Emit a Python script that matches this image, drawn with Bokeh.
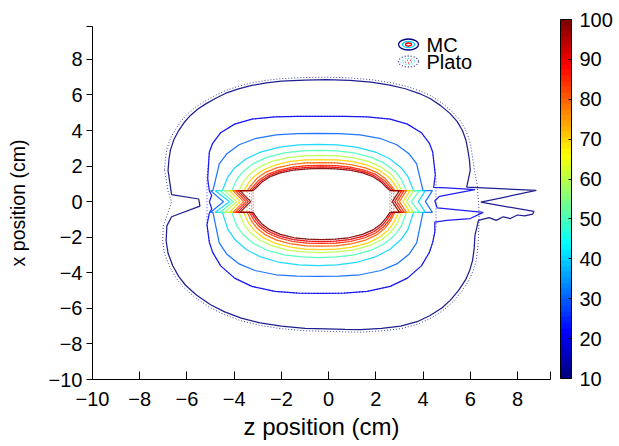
from bokeh.plotting import figure
from bokeh.models import (ColumnDataSource, LinearColorMapper, ColorBar, FixedTicker,
                          Range1d, Label)
from bokeh.transform import transform
from bokeh.embed import file_html
from bokeh.resources import INLINE

# ------------------------------------------------------------------ data
# axis limits and ticks
X_LIM = (-10.0, 9.4)
Y_LIM = (-10.0, 9.85)
X_TICKS = [-10, -8, -6, -4, -2, 0, 2, 4, 6, 8]
Y_TICKS = [-10, -8, -6, -4, -2, 0, 2, 4, 6, 8]
CBAR_LOW, CBAR_HIGH = 10, 100
CBAR_TICKS = [10, 20, 30, 40, 50, 60, 70, 80, 90, 100]

# MC 10 % isodose (z, x) in cm
Z10 = [-6.65, -5.50, -5.45, -6.65,
       -6.85, -6.88, -6.80, -6.60, -6.35, -6.06, -5.60, -5.00, -4.40, -3.70,
       -2.90, -2.00, -1.00, -0.10, 0.70, 1.35, 2.25, 3.05, 3.75, 4.30,
       4.80, 5.15, 5.50, 5.80, 5.98, 6.10, 6.17, 6.20, 6.35,
       6.80, 7.10, 7.40, 7.70, 8.00, 8.30, 8.65, 8.70, 6.45, 8.80, 7.00, 5.85,
       6.00, 5.97, 5.90, 5.82, 5.67, 5.45, 5.15, 4.75, 4.30, 3.85,
       3.25, 2.60, 1.80, 0.90, -0.10, -1.00, -2.00, -2.65, -3.30, -3.85,
       -4.35, -4.80, -5.20, -5.55, -5.85, -6.12, -6.35, -6.55, -6.70, -6.76,
       -6.80, -6.65]
X10 = [0.40, 0.15, -0.25, -0.85,
       -1.36, -2.20, -2.90, -3.60, -4.20, -4.70, -5.25, -5.80, -6.20, -6.55,
       -6.82, -7.00, -7.12, -7.15, -7.18, -7.20, -7.12, -7.00, -6.75, -6.40,
       -5.98, -5.55, -5.00, -4.40, -3.85, -3.30, -2.60, -1.90, -1.05,
       -0.90, -1.05, -0.85, -0.95, -0.75, -0.80, -0.70, -0.55, -0.03, 0.63, 0.75, 0.82,
       1.75, 2.30, 2.90, 3.45, 4.00, 4.50, 4.95, 5.40, 5.80, 6.08,
       6.35, 6.55, 6.72, 6.82, 6.86, 6.84, 6.78, 6.68, 6.52, 6.33,
       6.10, 5.80, 5.50, 5.20, 4.85, 4.45, 4.00, 3.50, 2.90, 2.40,
       1.75, 0.40]

# MC 20 % isodose
Z20 = [-5.05, -4.91, -4.57, -3.98, -3.25, -2.27, -1.30, -0.32, 0.66, 1.63, 2.61, 3.34,
       3.93, 4.27, 4.41,
       4.52, 4.45, 5.00, 6.20, 4.70, 4.50, 4.60, 6.55, 6.00, 5.00, 4.50, 4.50,
       4.41, 4.27, 3.93, 3.34, 2.61, 1.63, 0.66, -0.32, -1.30, -2.27, -3.25, -3.98,
       -4.57, -4.91, -5.05,
       -5.15, -5.05, -4.95, -5.05, -4.95, -5.05, -5.12, -5.05]
X20 = [2.79, 3.28, 3.88, 4.36, 4.64, 4.77, 4.80, 4.80, 4.80, 4.77, 4.64, 4.36,
       3.88, 3.28, 2.79,
       1.50, 0.80, 0.78, 0.68, 0.30, 0.05, -0.35, -0.60, -0.95, -1.05, -1.15, -1.70,
       -2.29, -2.85, -3.61, -4.30, -4.76, -5.05, -5.14, -5.16, -5.14, -5.05, -4.76, -4.30,
       -3.61, -2.85, -2.29,
       -1.30, -0.65, -0.40, 0.00, 0.35, 0.60, 1.30, 2.79]

# MC 30..100 % isodoses: arc z positions, upper arc x, lower arc x
Z30 = [-4.63, -4.32, -3.79, -3.12, -2.23, -1.34, -0.45, 0.44, 1.33, 2.22, 2.89, 3.42, 3.73]
T30 = [2.12, 2.68, 3.20, 3.54, 3.76, 3.83, 3.84, 3.83, 3.76, 3.54, 3.20, 2.68, 2.12]
B30 = [-2.32, -2.94, -3.50, -3.87, -4.11, -4.19, -4.20, -4.19, -4.11, -3.87, -3.50, -2.94, -2.32]
Z40 = [-4.26, -3.97, -3.49, -2.88, -2.07, -1.26, -0.45, 0.36, 1.17, 1.98, 2.59, 3.07, 3.36]
T40 = [1.41, 1.91, 2.41, 2.79, 3.07, 3.19, 3.22, 3.19, 3.07, 2.79, 2.41, 1.91, 1.41]
B40 = [-1.57, -2.13, -2.69, -3.11, -3.42, -3.56, -3.59, -3.56, -3.42, -3.11, -2.69, -2.13, -1.57]
Z50 = [-3.88, -3.62, -3.18, -2.62, -1.88, -1.14, -0.40, 0.34, 1.08, 1.82, 2.38, 2.82, 3.08]
T50 = [1.26, 1.70, 2.15, 2.49, 2.74, 2.85, 2.88, 2.85, 2.74, 2.49, 2.15, 1.70, 1.26]
B50 = [-1.38, -1.86, -2.35, -2.72, -2.99, -3.11, -3.14, -3.11, -2.99, -2.72, -2.35, -1.86, -1.38]
Z60 = [-3.59, -3.35, -2.94, -2.42, -1.73, -1.04, -0.35, 0.34, 1.03, 1.72, 2.24, 2.65, 2.89]
T60 = [1.14, 1.54, 1.94, 2.25, 2.48, 2.58, 2.60, 2.58, 2.48, 2.25, 1.94, 1.54, 1.14]
B60 = [-1.25, -1.69, -2.14, -2.47, -2.72, -2.83, -2.86, -2.83, -2.72, -2.47, -2.14, -1.69, -1.25]
Z70 = [-3.40, -3.17, -2.78, -2.29, -1.63, -0.98, -0.32, 0.34, 0.99, 1.65, 2.14, 2.53, 2.76]
T70 = [1.04, 1.40, 1.77, 2.05, 2.26, 2.35, 2.37, 2.35, 2.26, 2.05, 1.77, 1.40, 1.04]
B70 = [-1.18, -1.59, -2.01, -2.33, -2.56, -2.67, -2.69, -2.67, -2.56, -2.33, -2.01, -1.59, -1.18]
Z80 = [-3.26, -3.04, -2.67, -2.20, -1.57, -0.95, -0.32, 0.31, 0.93, 1.56, 2.03, 2.40, 2.62]
T80 = [0.96, 1.30, 1.65, 1.90, 2.09, 2.18, 2.20, 2.18, 2.09, 1.90, 1.65, 1.30, 0.96]
B80 = [-1.10, -1.48, -1.87, -2.16, -2.38, -2.48, -2.50, -2.48, -2.38, -2.16, -1.87, -1.48, -1.10]
Z85 = [-3.17, -2.95, -2.59, -2.13, -1.52, -0.91, -0.30, 0.31, 0.92, 1.53, 1.99, 2.35, 2.57]
T85 = [0.89, 1.21, 1.53, 1.76, 1.94, 2.02, 2.04, 2.02, 1.94, 1.76, 1.53, 1.21, 0.89]
B85 = [-1.03, -1.39, -1.76, -2.03, -2.24, -2.33, -2.35, -2.33, -2.24, -2.03, -1.76, -1.39, -1.03]
Z90 = [-3.09, -2.88, -2.53, -2.08, -1.49, -0.89, -0.30, 0.29, 0.89, 1.48, 1.93, 2.28, 2.49]
T90 = [0.85, 1.15, 1.46, 1.69, 1.86, 1.93, 1.95, 1.93, 1.86, 1.69, 1.46, 1.15, 0.85]
B90 = [-0.98, -1.33, -1.68, -1.94, -2.13, -2.22, -2.24, -2.22, -2.13, -1.94, -1.68, -1.33, -0.98]
Z100 = [-3.03, -2.82, -2.48, -2.04, -1.46, -0.88, -0.30, 0.28, 0.86, 1.44, 1.88, 2.22, 2.43]
T100 = [0.82, 1.11, 1.40, 1.62, 1.78, 1.85, 1.87, 1.85, 1.78, 1.62, 1.40, 1.11, 0.82]
B100 = [-0.93, -1.26, -1.59, -1.84, -2.03, -2.11, -2.13, -2.11, -2.03, -1.84, -1.59, -1.26, -0.93]

# applicator channel (nozzle) features of the 30..100 % lines
NOZ_LEVELS = [30, 40, 50, 60, 70, 80, 85, 90, 100]
LEFT_WALL_Z = [-4.90, -4.50, -4.10, -3.80, -3.60, -3.45, -3.35, -3.27, -3.20]
LEFT_END_Z = [-5.00, -4.80, -4.60, -4.40, -4.20, -4.05, -3.95, -3.85, -3.75]
LEFT_TIP_Z = [-4.45, -4.20, -4.05, -3.90, -3.75, -3.60, -3.50, -3.40, -3.30]
RIGHT_WALL_Z = [4.00, 3.60, 3.30, 3.10, 2.96, 2.81, 2.75, 2.67, 2.60]
RIGHT_END_Z = [4.40, 4.10, 3.85, 3.60, 3.45, 3.30, 3.20, 3.10, 3.00]
RIGHT_TIP_Z = [4.10, 3.80, 3.50, 3.30, 3.15, 3.00, 2.90, 2.80, 2.70]
CHANNEL_TOP_X = 0.62
CHANNEL_BOT_X = -0.60
CHANNEL_MID_X = 0.0

# Plato isodoses
P10_Z = [-6.95, -6.91, -6.85, -6.70, -6.48, -6.24, -5.95, -5.64, -5.28, -4.86,
         -4.40, -3.89, -3.32, -2.66, -2.00, -1.00, -0.10, 0.90, 1.81, 2.63,
         3.29, 3.91, 4.38, 4.85, 5.26, 5.57, 5.80, 5.96, 6.05, 6.12,
         6.18, 6.30, 6.35, 6.38, 6.35, 6.32, 6.25, 6.12, 5.93, 5.62,
         5.26, 4.89, 4.37, 3.80, 3.08, 2.26, 1.35, 0.70, -0.10, -1.01,
         -2.03, -2.94, -3.76, -4.47, -5.09, -5.70, -6.18, -6.48, -6.74, -6.95,
         -7.03, -7.00, -6.80, -6.65, -6.80, -6.95]
P10_X = [1.80, 2.43, 2.95, 3.55, 4.08, 4.55, 4.96, 5.31, 5.62, 5.93,
         6.23, 6.46, 6.66, 6.82, 6.92, 6.98, 7.00, 6.96, 6.86, 6.69,
         6.49, 6.21, 5.92, 5.50, 5.03, 4.57, 4.05, 3.48, 2.92, 2.31,
         1.75, 0.90, 0.00, -0.90, -1.92, -2.62, -3.33, -3.90, -4.46, -5.08,
         -5.64, -6.08, -6.52, -6.88, -7.14, -7.26, -7.34, -7.32, -7.29, -7.26,
         -7.14, -6.95, -6.68, -6.32, -5.91, -5.34, -4.77, -4.26, -3.64, -2.92,
         -2.21, -1.36, -0.60, 0.00, 0.60, 1.80]
P20_Z = [-5.05, -4.91, -4.57, -3.98, -3.25, -2.27, -1.30, -0.32, 0.66, 1.63, 2.61, 3.34,
         3.93, 4.27, 4.41, 4.55, 4.55, 4.41, 4.27, 3.93, 3.34, 2.61, 1.63, 0.66, -0.32,
         -1.30, -2.27, -3.25, -3.98, -4.57, -4.91, -5.05, -5.15, -5.15, -5.05]
P20_X = [2.79, 3.28, 3.88, 4.36, 4.64, 4.77, 4.80, 4.80, 4.80, 4.77, 4.64, 4.36,
         3.88, 3.28, 2.79, 1.30, -1.40, -2.29, -2.85, -3.61, -4.30, -4.76, -5.05, -5.14,
         -5.16, -5.14, -5.05, -4.76, -4.30, -3.61, -2.85, -2.29, -1.30, 1.30, 2.79]
PLATO_INNER_LEVELS = [70, 80, 85, 90, 100]

# ------------------------------------------------------------------ build
ARC_Z = {30: Z30, 40: Z40, 50: Z50, 60: Z60, 70: Z70, 80: Z80, 85: Z85, 90: Z90, 100: Z100}
ARC_T = {30: T30, 40: T40, 50: T50, 60: T60, 70: T70, 80: T80, 85: T85, 90: T90, 100: T100}
ARC_B = {30: B30, 40: B40, 50: B50, 60: B60, 70: B70, 80: B80, 85: B85, 90: B90, 100: B100}

WT, WB, WM = CHANNEL_TOP_X, CHANNEL_BOT_X, CHANNEL_MID_X

mc_xs, mc_ys, mc_lv = [Z10, Z20], [X10, X20], [10, 20]
for i, lv in enumerate(NOZ_LEVELS):
    z, t, b = ARC_Z[lv], ARC_T[lv], ARC_B[lv]
    zs = ([LEFT_END_Z[i], LEFT_WALL_Z[i]] + z +
          [RIGHT_WALL_Z[i], RIGHT_END_Z[i], RIGHT_TIP_Z[i], RIGHT_END_Z[i], RIGHT_WALL_Z[i]] +
          z[::-1] + [LEFT_WALL_Z[i], LEFT_END_Z[i], LEFT_TIP_Z[i], LEFT_END_Z[i]])
    xs = ([WT, WT] + t + [WT, WT, WM, WB, WB] + b[::-1] + [WB, WB, WM, WT])
    mc_xs.append(zs)
    mc_ys.append(xs)
    mc_lv.append(lv)

pl_xs, pl_ys, pl_lv = [P10_Z, P20_Z], [P10_X, P20_X], [10, 20]
for lv in PLATO_INNER_LEVELS:
    i = NOZ_LEVELS.index(lv)
    z, t, b = ARC_Z[lv], ARC_T[lv], ARC_B[lv]
    zs = ([LEFT_WALL_Z[i]] + z + [RIGHT_WALL_Z[i], RIGHT_WALL_Z[i]] + z[::-1] +
          [LEFT_WALL_Z[i], LEFT_WALL_Z[i]])
    xs = [WT] + t + [WT, WB] + b[::-1] + [WB, WT]
    pl_xs.append(zs)
    pl_ys.append(xs)
    pl_lv.append(lv)


def jet(n):
    pal = []
    for k in range(n):
        f = k / (n - 1)
        r = min(max(1.5 - abs(4 * f - 3), 0), 1)
        g = min(max(1.5 - abs(4 * f - 2), 0), 1)
        bl = min(max(1.5 - abs(4 * f - 1), 0), 1)
        pal.append("#%02x%02x%02x" % (round(r * 255), round(g * 255), round(bl * 255)))
    return pal


JET = jet(64)
mapper = LinearColorMapper(palette=JET, low=CBAR_LOW, high=CBAR_HIGH)

FONT = "Liberation Sans"
W, H = 619, 446
FL, FT, FR, FB = 92, 26, 550, 379   # frame edges in px

p = figure(width=W, height=H, x_range=Range1d(*X_LIM), y_range=Range1d(*Y_LIM),
           output_backend="svg", toolbar_location=None,
           min_border_left=FL, min_border_right=W - FR, min_border_top=FT,
           min_border_bottom=H - FB)
p.outline_line_color = None
p.xgrid.visible = False
p.ygrid.visible = False
p.background_fill_color = "white"
p.border_fill_color = "white"

p.multi_line(xs="xs", ys="ys", source=ColumnDataSource(dict(xs=pl_xs, ys=pl_ys, lv=pl_lv)),
             line_color=transform("lv", mapper), line_width=1.0, line_dash="1 2",
             line_alpha=0.75)
p.multi_line(xs="xs", ys="ys", source=ColumnDataSource(dict(xs=mc_xs, ys=mc_ys, lv=mc_lv)),
             line_color=transform("lv", mapper), line_width=1.25, line_alpha=0.88)

# axes
p.xaxis.ticker = FixedTicker(ticks=X_TICKS + [X_LIM[1]])
p.yaxis.ticker = FixedTicker(ticks=Y_TICKS + [Y_LIM[1]])
p.xaxis.major_label_overrides = {X_LIM[1]: ""}
p.yaxis.major_label_overrides = {Y_LIM[1]: ""}
p.xaxis.axis_label = "z position (cm)"
p.yaxis.axis_label = "x position (cm)"
for ax in (p.xaxis[0], p.yaxis[0]):
    ax.axis_line_color = "black"
    ax.major_tick_line_color = "black"
    ax.minor_tick_line_color = None
    ax.major_label_text_font = FONT
    ax.major_label_text_font_size = "20px"
    ax.major_label_text_color = "black"
    ax.axis_label_text_font = FONT
    ax.axis_label_text_font_style = "normal"
    ax.axis_label_text_color = "black"
p.xaxis.axis_label_text_font_size = "24px"
p.yaxis.axis_label_text_font_size = "19.5px"
p.xaxis.major_tick_in = 8
p.xaxis.major_tick_out = 0
p.xaxis.major_label_standoff = 12
p.xaxis.axis_label_standoff = 4
p.yaxis.major_tick_in = 0
p.yaxis.major_tick_out = 6
p.yaxis.major_label_standoff = 4
p.yaxis.axis_label_standoff = 17

# colour bar
cb = ColorBar(color_mapper=mapper, ticker=FixedTicker(ticks=CBAR_TICKS),
              location=(560 - FL, FB - 378), width=11, height=359, padding=0, margin=0,
              label_standoff=8, major_label_text_font=FONT, major_label_text_font_size="20px",
              major_label_text_color="black", major_tick_in=3, major_tick_out=0,
              major_tick_line_color="black", bar_line_color="black",
              border_line_color=None, background_fill_color=None)
p.add_layout(cb, "center")


# legend (drawn by hand: concentric isodose icons)
def sx(px):
    return X_LIM[0] + (px - FL) / (FR - FL) * (X_LIM[1] - X_LIM[0])


def sy(py):
    return Y_LIM[1] - (py - FT) / (FB - FT) * (Y_LIM[1] - Y_LIM[0])


LEG_ITEMS = [("MC", 44, None), ("Plato", 61, "1 2")]
RING_SIZES = [(20, 11), (12, 6), (6, 3)]
RING_LEVELS = [10, 40, 90]
for label, py, dash in LEG_ITEMS:
    for (rw, rh), lv in zip(RING_SIZES, RING_LEVELS):
        kw = dict(line_dash=dash, line_alpha=0.8) if dash else {}
        p.ellipse(x=sx(408), y=sy(py), width=rw, height=rh, width_units="screen",
                  height_units="screen", fill_color=None,
                  line_color=JET[int((lv - CBAR_LOW) / (CBAR_HIGH - CBAR_LOW) * 63)],
                  line_width=1.3, **kw)
    p.add_layout(Label(x=sx(426), y=sy(py), text=label, text_baseline="middle",
                       text_font=FONT, text_font_size="20px", text_color="black"))

open("out.html", "w").write(file_html(p, INLINE))
